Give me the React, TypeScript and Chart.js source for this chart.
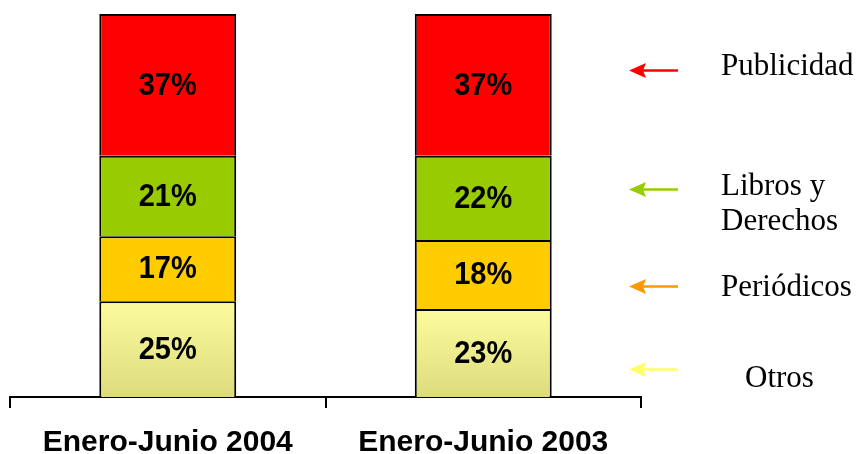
import React, { useEffect, useRef } from "react";
import { Chart, registerables } from "chart.js";

Chart.register(...registerables);

const categories = ["Enero-Junio 2004", "Enero-Junio 2003"];
const otros = [25, 23];
const periodicos = [17, 18];
const libros = [21, 22];
const publicidad = [37, 37];

const legendLabels = [["Publicidad"], ["Libros y", "Derechos"], ["Periódicos"], ["Otros"]];
const legendColors = ["#ff0000", "#99cc00", "#ff9900", "#ffff66"];
// vertical placement of the side legend, in value units of the y scale
const legendArrowValues = [85.4, 54.3, 29.0, 7.3];
const legendTextValues = [84.1, 52.7, 26.4, 2.6];
const legendTextIndent = [0, 0, 0, 24];

const SANS = "'Liberation Sans', Arial, sans-serif";
const SERIF = "'Liberation Serif', 'Times New Roman', serif";

const valueLabels = {
  id: "valueLabels",
  afterDatasetsDraw(chart: any) {
    const ctx = chart.ctx;
    ctx.save();
    ctx.font = `bold 29px ${SANS}`;
    ctx.fillStyle = "#000";
    ctx.textAlign = "center";
    ctx.textBaseline = "middle";
    chart.data.datasets.forEach((ds: any, i: number) => {
      const meta = chart.getDatasetMeta(i);
      meta.data.forEach((el: any, j: number) => {
        const v = ds.data[j];
        const cy = (el.y + el.base) / 2 + 1;
        ctx.save();
        ctx.translate(el.x, cy);
        ctx.scale(1, 1.1);
        ctx.fillText(`${v}%`, 0, 0);
        ctx.restore();
      });
    });
    ctx.restore();
  },
};

const sideLegend = {
  id: "sideLegend",
  afterDraw(chart: any) {
    const ctx = chart.ctx;
    const area = chart.chartArea;
    const y = chart.scales.y;
    const tipX = area.right - 12;
    const tailX = area.right + 37;
    const textX = area.right + 80;
    ctx.save();
    legendLabels.forEach((lines, i) => {
      const ay = Math.round(y.getPixelForValue(legendArrowValues[i])) + 0.5;
      ctx.strokeStyle = legendColors[i];
      ctx.fillStyle = legendColors[i];
      ctx.lineWidth = 2.5;
      ctx.beginPath();
      ctx.moveTo(tipX + 12, ay);
      ctx.lineTo(tailX, ay);
      ctx.stroke();
      ctx.beginPath();
      ctx.moveTo(tipX, ay);
      ctx.lineTo(tipX + 17, ay - 7.5);
      ctx.lineTo(tipX + 14, ay);
      ctx.lineTo(tipX + 17, ay + 7.5);
      ctx.closePath();
      ctx.fill();

      ctx.fillStyle = "#000";
      ctx.font = `31px ${SERIF}`;
      ctx.textAlign = "left";
      ctx.textBaseline = "alphabetic";
      const ty = y.getPixelForValue(legendTextValues[i]);
      lines.forEach((line, k) => {
        ctx.save();
        ctx.translate(textX + legendTextIndent[i], ty + k * 35);
        ctx.scale(1, 1.05);
        ctx.fillText(line, 0, 0);
        ctx.restore();
      });
    });
    ctx.restore();
  },
};

export default function App() {
  const ref = useRef<HTMLCanvasElement>(null);
  useEffect(() => {
    if (!ref.current) return;
    const otrosFill = (c: any) => {
      const chart = c.chart;
      if (!chart.chartArea) return "#f5f590";
      const ys = chart.scales.y;
      const top = ys.getPixelForValue(otros[c.dataIndex] ?? 25);
      const bottom = ys.getPixelForValue(0);
      const g = chart.ctx.createLinearGradient(0, top, 0, bottom);
      g.addColorStop(0, "#fcfc9c");
      g.addColorStop(1, "#dcdc7e");
      return g;
    };
    const common = {
      borderColor: "#000",
      borderWidth: { top: 2, left: 2, right: 2, bottom: 0 },
      borderSkipped: false,
      categoryPercentage: 1,
      barPercentage: 0.434,
    };
    const chart = new Chart(ref.current, {
      type: "bar",
      data: {
        labels: categories,
        datasets: [
          { label: "Otros", data: otros, backgroundColor: otrosFill, ...common },
          { label: "Periódicos", data: periodicos, backgroundColor: "#ffcc00", ...common },
          { label: "Libros y Derechos", data: libros, backgroundColor: "#99cc00", ...common },
          { label: "Publicidad", data: publicidad, backgroundColor: "#ff0000", ...common },
        ] as any,
      },
      options: {
        animation: false,
        responsive: true,
        maintainAspectRatio: false,
        layout: { padding: { left: 10, right: 216, top: 14, bottom: 0 } },
        plugins: { legend: { display: false }, tooltip: { enabled: false } },
        scales: {
          x: {
            stacked: true,
            grid: { display: true, drawOnChartArea: false, drawTicks: true, tickLength: 11, color: "#000", lineWidth: 2, offset: true },
            border: { display: true, color: "#000", width: 2 },
            ticks: { color: "#000", font: { family: SANS, size: 30, weight: "bold" }, padding: 17 },
            afterFit: (s: any) => { s.height = 57; },
          },
          y: { stacked: true, display: false, min: 0, max: 100 },
        },
      } as any,
      plugins: [valueLabels, sideLegend],
    });
    return () => chart.destroy();
  }, []);
  return (
    <div style={{ position: "absolute", left: 0, top: 0, width: 857, height: 454, background: "#fff" }}>
      <canvas ref={ref} />
    </div>
  );
}
